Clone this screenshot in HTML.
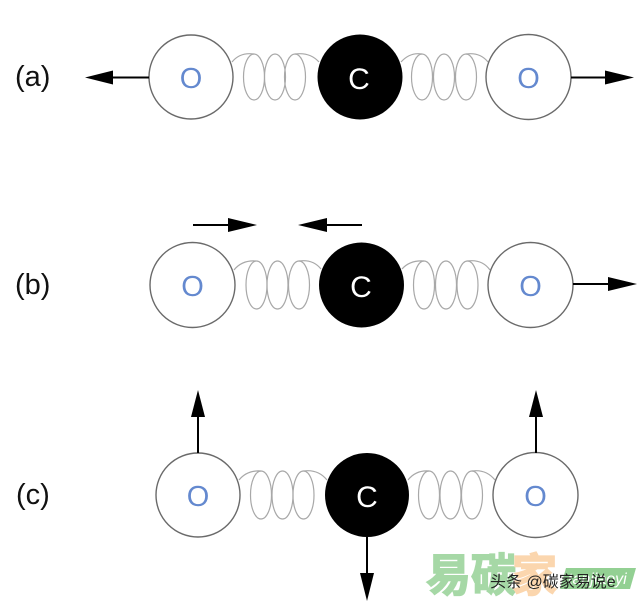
<!DOCTYPE html>
<html><head><meta charset="utf-8"><style>
html,body{margin:0;padding:0;background:#fff;}
svg{display:block;}
</style></head><body>
<svg width="640" height="613" viewBox="0 0 640 613" xmlns="http://www.w3.org/2000/svg">
<rect width="640" height="613" fill="#fff"/>

<!-- labels -->
<g font-family="Liberation Sans, sans-serif" font-size="29" fill="#111">
<text x="15" y="86">(a)</text>
<text x="15" y="294">(b)</text>
<text x="16" y="504">(c)</text>
</g>

<!-- springs -->
<g fill="none" stroke="#a8a8a8" stroke-width="1.2">
<!-- row a -->
<path d="M232 62 Q240 52 254 54"/>
<ellipse cx="254" cy="77" rx="10.5" ry="23"/>
<ellipse cx="275" cy="77" rx="10.5" ry="23"/>
<ellipse cx="295" cy="77" rx="10.5" ry="23"/>
<path d="M295 54 Q310 52 319 62"/>
<path d="M401 62 Q410 52 422 54"/>
<ellipse cx="422" cy="77" rx="10.5" ry="23"/>
<ellipse cx="444" cy="77" rx="10.5" ry="23"/>
<ellipse cx="466" cy="77" rx="10.5" ry="23"/>
<path d="M466 54 Q480 52 488 62"/>
<!-- row b -->
<path d="M234 270 Q242 260 256 261"/>
<ellipse cx="256.5" cy="285" rx="10.5" ry="24"/>
<ellipse cx="277.5" cy="285" rx="10.5" ry="24"/>
<ellipse cx="299" cy="285" rx="10.5" ry="24"/>
<path d="M299 261 Q313 259 321 269"/>
<path d="M402 269 Q410 260 424 261"/>
<ellipse cx="424" cy="285" rx="10.5" ry="24"/>
<ellipse cx="446" cy="285" rx="10.5" ry="24"/>
<ellipse cx="467.5" cy="285" rx="10.5" ry="24"/>
<path d="M467.5 261 Q482 259 490 270"/>
<!-- row c -->
<path d="M239 480 Q247 470 261 471"/>
<ellipse cx="261" cy="495" rx="10.5" ry="24"/>
<ellipse cx="282.5" cy="495" rx="10.5" ry="24"/>
<ellipse cx="303.5" cy="495" rx="10.5" ry="24"/>
<path d="M303.5 471 Q318 469 327 480"/>
<path d="M408 480 Q416 470 429 471"/>
<ellipse cx="429" cy="495" rx="10.5" ry="24"/>
<ellipse cx="450.5" cy="495" rx="10.5" ry="24"/>
<ellipse cx="472" cy="495" rx="10.5" ry="24"/>
<path d="M472 471 Q486 469 495 480"/>
</g>

<!-- O atoms -->
<g fill="#fff" stroke="#6a6a6a" stroke-width="1.4">
<circle cx="191" cy="77" r="42"/>
<circle cx="528.5" cy="77" r="42.5"/>
<circle cx="192.5" cy="285" r="42.5"/>
<circle cx="530.5" cy="285" r="42.5"/>
<circle cx="198" cy="495" r="42"/>
<circle cx="535.5" cy="495" r="42.5"/>
</g>
<!-- C atoms -->
<g fill="#000">
<circle cx="360" cy="77" r="42.5"/>
<circle cx="361.5" cy="285" r="42.5"/>
<circle cx="367" cy="495" r="42"/>
</g>

<!-- letters -->
<g font-family="Liberation Sans, DejaVu Sans, sans-serif" font-size="29" fill="#6489cf" text-anchor="middle">
<text x="191" y="88">O</text>
<text x="528.5" y="88">O</text>
<text x="192.5" y="296">O</text>
<text x="530.5" y="296">O</text>
<text x="198" y="506">O</text>
<text x="535.5" y="506">O</text>
</g>
<g font-family="Liberation Sans, DejaVu Sans, sans-serif" font-size="30" fill="#fff" text-anchor="middle">
<text x="359" y="89">C</text>
<text x="361" y="297">C</text>
<text x="367" y="507">C</text>
</g>

<!-- arrows -->
<g stroke="#000" stroke-width="2">
<line x1="149" y1="77.5" x2="110" y2="77.5"/>
<line x1="571" y1="77.5" x2="607" y2="77.5"/>
<line x1="193" y1="225" x2="230" y2="225"/>
<line x1="362" y1="225" x2="325" y2="225"/>
<line x1="573" y1="284" x2="610" y2="284"/>
<line x1="198" y1="453" x2="198" y2="415"/>
<line x1="536" y1="453" x2="536" y2="415"/>
<line x1="367" y1="537" x2="367" y2="575"/>
</g>
<g fill="#000">
<polygon points="85,77.5 113,70.5 113,84.5"/>
<polygon points="634,77.5 605,70.5 605,84.5"/>
<polygon points="257,225 228,218 228,232"/>
<polygon points="298,225 327,218 327,232"/>
<polygon points="637,284 608,277 608,291"/>
<polygon points="198,390 191,417 205,417"/>
<polygon points="536,390 529,417 543,417"/>
<polygon points="367,601 360,573 374,573"/>
</g>

<!-- watermark -->
<g font-family="Liberation Sans, Noto Sans CJK SC, sans-serif" font-weight="bold" font-size="45">
<text x="426" y="591" fill="#a6d8a6" stroke="#a6d8a6" stroke-width="1.5">易碳</text>
<text x="512" y="591" fill="#fbd6ae" stroke="#fbd6ae" stroke-width="1.5">家</text>
</g>
<polygon points="566,568 636,568 630,589 560,589" fill="#93d093"/>
<text x="568" y="584" font-family="Liberation Sans, sans-serif" font-style="italic" font-size="16" fill="#fff">tanjiaoyi</text>
<text x="490" y="587" font-family="Liberation Sans, Noto Sans CJK SC, sans-serif" font-size="16" fill="#222">头条 @碳家易说e</text>
</svg>
</body></html>
